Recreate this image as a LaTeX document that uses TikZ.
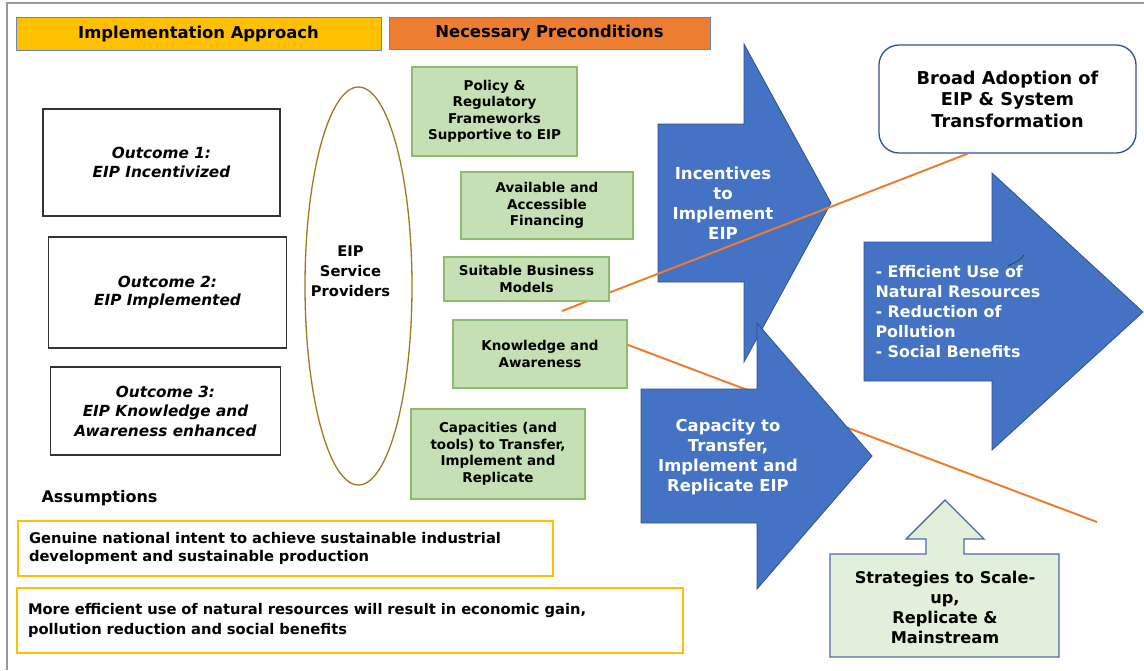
\documentclass[tikz,border=0pt]{standalone}
\usepackage{fontspec}
\setmainfont{DejaVu Sans}
\usetikzlibrary{shapes.geometric}

\definecolor{eipyellow}{HTML}{FFC000}
\definecolor{eiporange}{HTML}{ED7D31}
\definecolor{eipblue}{HTML}{4472C4}
\definecolor{eipdarkblue}{HTML}{2F528F}
\definecolor{eipgreen}{HTML}{C5E0B4}
\definecolor{eipgreenline}{HTML}{70AD47}
\definecolor{eiplightgreen}{HTML}{E2EFDA}
\definecolor{eipgold}{HTML}{9C7A1E}

\begin{document}
\begin{tikzpicture}[x=1pt, y=-1pt,
        header/.style={rectangle, draw=eipdarkblue!70, thin, font=\fontsize{16.4}{19}\selectfont\bfseries, inner sep=0pt},
        outcome/.style={rectangle, draw=black!80, line width=1.3pt, align=center, font=\fontsize{15.3}{18.5}\selectfont\bfseries\itshape, inner sep=0pt},
        precond/.style={rectangle, draw=eipgreenline!80, fill=eipgreen, line width=1.3pt, align=center, font=\fontsize{13.5}{16.5}\selectfont\bfseries, inner sep=0pt},
        bluearrow/.style={fill=eipblue, draw=eipdarkblue, line width=0.8pt},
        arrowtext/.style={text=white, align=center, font=\fontsize{16.6}{20}\selectfont\bfseries},
        assumption/.style={rectangle, draw=eipyellow, line width=1.3pt, align=left, font=\fontsize{14.7}{17.5}\selectfont\bfseries, inner xsep=11pt, inner ysep=0pt},
        link/.style={draw=eiporange, line width=2pt},]

        \useasboundingbox (0,0) rectangle (1144,670);

        % Frame
        \draw[black!40, line width=1.5pt] (1144,3) -- (7,3) -- (7,670);

        % Headers
        \node[header, fill=eipyellow, minimum width=365pt, minimum height=33pt] (approach) at (198.5,33.5) {Implementation Approach};
        \node[header, fill=eiporange, minimum width=321pt, minimum height=32pt] (precond) at (549.5,33) {Necessary Preconditions};

        % Outcomes
        \node[outcome, minimum width=237pt, minimum height=107pt] (out1) at (161.5,162.5) {Outcome 1:\\EIP Incentivized};
        \node[outcome, minimum width=238pt, minimum height=111pt] (out2) at (167.5,292.5) {Outcome 2:\\EIP Implemented};
        \node[outcome, minimum width=230pt, minimum height=88pt, font=\fontsize{15.3}{19.5}\selectfont\bfseries\itshape] (out3) at (165.5,411) {Outcome 3:\\EIP Knowledge and\\Awareness enhanced};

        % Service providers
        \node[ellipse, draw=eipgold, line width=1.3pt, minimum width=107pt, minimum height=398pt, inner sep=0pt] (provider) at (358.5,286) {};
        \node[align=center, font=\fontsize{14.7}{20}\selectfont\bfseries] (providertext) at (350.5,271) {EIP\\Service\\Providers};

        % Outcome of the change
        \node[rectangle, rounded corners=20pt, draw=eipdarkblue, line width=1.3pt, fill=white, minimum width=257pt, minimum height=108pt, align=center, font=\fontsize{17.7}{21.5}\selectfont\bfseries] (adopt) at (1007.5,99) {Broad Adoption of\\EIP \& System\\Transformation};

        % Incentives arrow
        \filldraw[bluearrow] (658,124) -- (744,124) -- (744,44) -- (831,203) -- (744,362) -- (744,282) -- (658,282) -- cycle;
        \node[arrowtext] (incent) at (723,203) {Incentives\\to\\Implement\\EIP};

        % Links
        \coordinate (suitend) at (562,311);
        \draw[link] (suitend) -- (adopt.234);

        % Preconditions
        \node[precond, minimum width=165pt, minimum height=89pt] (policy) at (494.5,111.5) {Policy \&\\Regulatory\\Frameworks\\Supportive to EIP};
        \node[precond, minimum width=172pt, minimum height=67pt] (finance) at (547,205.5) {Available and\\Accessible\\Financing};
        \node[precond, minimum width=165pt, minimum height=44pt] (business) at (526.5,279) {Suitable Business\\Models};
        \node[precond, minimum width=174pt, minimum height=68pt] (knowl) at (540,354) {Knowledge and\\Awareness};
        \node[precond, minimum width=174pt, minimum height=90pt] (tools) at (498,454) {Capacities (and\\tools) to Transfer,\\Implement and\\Replicate};

        \coordinate (capend) at (1097,522);
        \draw[link] (knowl.6) -- (capend);

        % Capacity arrow
        \filldraw[bluearrow] (641,389) -- (757,389) -- (757,323) -- (872,456) -- (757,589) -- (757,523) -- (641,523) -- cycle;
        \node[arrowtext, font=\fontsize{16.4}{20}\selectfont\bfseries] (capacity) at (728,457) {Capacity to\\Transfer,\\Implement and\\Replicate EIP};

        % Results arrow
        \filldraw[bluearrow] (864,242) -- (992,242) -- (992,173) -- (1143,312) -- (992,450) -- (992,381) -- (864,381) -- cycle;
        \node[arrowtext, anchor=west, align=left, font=\fontsize{15.9}{20}\selectfont\bfseries] (results) at (872,312) {- Efficient Use of\\Natural Resources\\- Reduction of\\Pollution\\- Social Benefits};
        \draw[black!80, line width=0.6pt] (1008,266) .. controls (1015,262) and (1019,262) .. (1024,255);

        % Strategies
        \filldraw[fill=eiplightgreen, draw=eipdarkblue!85, line width=1.4pt] (830,554) -- (926,554) -- (926,539) -- (906,539) -- (945,500) -- (984,539) -- (964,539) -- (964,554) -- (1059,554) -- (1059,657) -- (830,657) -- cycle;
        \node[align=center, font=\fontsize{16.2}{20}\selectfont\bfseries] (strategy) at (945,607) {Strategies to Scale-\\up,\\Replicate \&\\Mainstream};

        % Assumptions
        \node[font=\fontsize{16}{19}\selectfont\bfseries] (assume) at (99.5,498) {Assumptions};
        \node[assumption, minimum width=535pt, minimum height=55pt, text width=513pt] (assume1) at (285.5,548.5) {Genuine national intent to achieve sustainable industrial\\development and sustainable production};
        \node[assumption, minimum width=666pt, minimum height=65pt, text width=644pt, font=\fontsize{14.7}{20}\selectfont\bfseries] (assume2) at (350,620.5) {More efficient use of natural resources will result in economic gain,\\pollution reduction and social benefits};
    \end{tikzpicture}
\end{document}
